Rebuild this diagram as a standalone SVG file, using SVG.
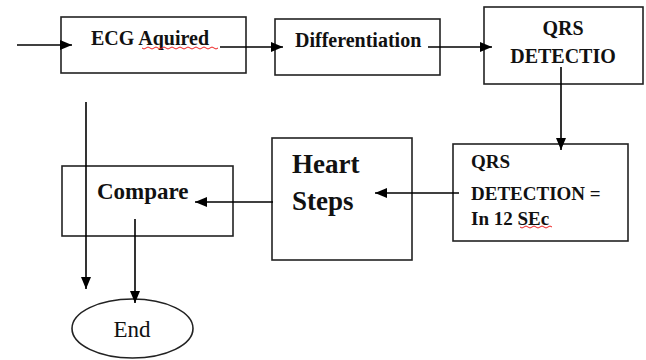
<svg xmlns="http://www.w3.org/2000/svg" width="646" height="360" viewBox="0 0 646 360">
<defs>
<style>
.box{fill:#fff;stroke:#222;stroke-width:1.6}
.t{font-family:"Liberation Serif","Times New Roman",serif;font-weight:bold;fill:#111}
.c{stroke:#000;stroke-width:1.6;fill:none}
.sq{stroke:#e22;stroke-width:1;fill:none}
</style>
<marker id="ah" viewBox="0 0 12 10" refX="12" refY="5" markerWidth="12" markerHeight="10" markerUnits="userSpaceOnUse" orient="auto">
<path d="M0,0 L12,5 L0,10 Z" fill="#000"/>
</marker>
</defs>
<rect width="646" height="360" fill="#fff"/>
<g id="ecg">
<rect class="box" x="61" y="17" width="185" height="56"/>
<text class="t" x="91" y="45" font-size="20">ECG Aquired</text>
<path class="sq" d="M142,48 q2,2 4,0 t4,0 t4,0 t4,0 t4,0 t4,0 t4,0 t4,0 t4,0 t4,0 t4,0 t4,0 t4,0 t4,0 t4,0 t4,0 t4,0 t4,0 t4,0"/>
</g>
<g id="diff">
<rect class="box" x="275" y="19" width="165" height="56"/>
<text class="t" x="295" y="47" font-size="20">Differentiation</text>
</g>
<g id="qrs1">
<rect class="box" x="484" y="7" width="159" height="77"/>
<text class="t" x="563" y="35" font-size="20" text-anchor="middle">QRS</text>
<text class="t" x="563" y="63" font-size="20" text-anchor="middle">DETECTIO</text>
</g>
<g id="qrs2">
<rect class="box" x="453" y="144" width="175" height="97"/>
<text class="t" x="471" y="168" font-size="19">QRS</text>
<text class="t" x="471" y="200" font-size="19">DETECTION =</text>
<text class="t" x="471" y="225" font-size="19">In 12 SEc</text>
<path class="sq" d="M520,227 q2,2 4,0 t4,0 t4,0 t4,0 t4,0 t4,0 t4,0 t4,0"/>
</g>
<g id="heart">
<rect class="box" x="272" y="138" width="140" height="122"/>
<text class="t" x="292" y="173" font-size="27">Heart</text>
<text class="t" x="292" y="210" font-size="27">Steps</text>
</g>
<g id="compare">
<rect class="box" x="62" y="166" width="171" height="70"/>
<text class="t" x="97" y="199" font-size="23">Compare</text>
</g>
<g id="end">
<ellipse class="box" cx="132.5" cy="328.5" rx="60.5" ry="29.5"/>
<text x="132" y="337" font-size="23" text-anchor="middle" font-family="Liberation Serif, Times New Roman, serif" fill="#111">End</text>
</g>
<g id="connectors">
<line class="c" x1="17" y1="45" x2="72" y2="45" marker-end="url(#ah)"/>
<line class="c" x1="220" y1="47" x2="283" y2="47" marker-end="url(#ah)"/>
<line class="c" x1="428" y1="47" x2="492" y2="47" marker-end="url(#ah)"/>
<line class="c" x1="561" y1="67" x2="561" y2="150" marker-end="url(#ah)"/>
<line class="c" x1="459" y1="193" x2="375" y2="193" marker-end="url(#ah)"/>
<line class="c" x1="273" y1="202" x2="195" y2="202" marker-end="url(#ah)"/>
<line class="c" x1="86" y1="102" x2="86" y2="289" marker-end="url(#ah)"/>
<line class="c" x1="135" y1="219" x2="135" y2="303" marker-end="url(#ah)"/>
</g>
</svg>
